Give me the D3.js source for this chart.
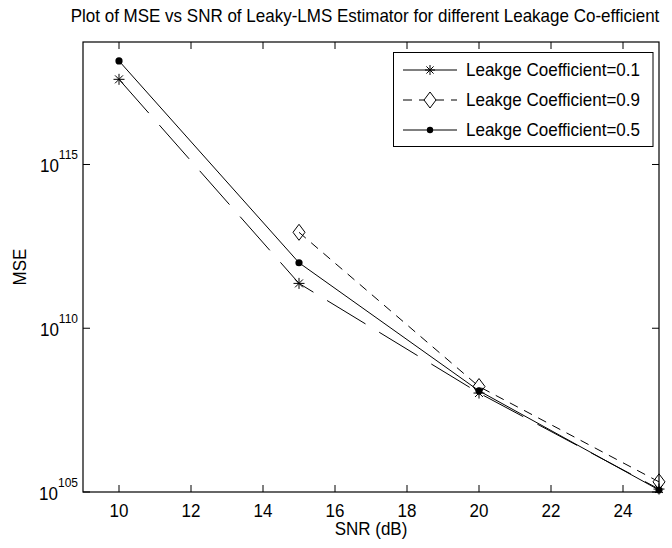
<!DOCTYPE html>
<html><head><meta charset="utf-8">
<script src="https://cdn.jsdelivr.net/npm/d3@7"></script>
<style>
body{margin:0;background:#fff}
text{font-family:"Liberation Sans",Arial,Helvetica,sans-serif;fill:#000}
</style>
</head><body>
<svg id="c" width="672" height="548"></svg>
<script>
// ---- data ----
const snr01 = [10, 15, 20, 25];
const mse01 = [3.98e117, 2.34e111, 1.05e108, 1.23e105];
const snr09 = [15, 20, 25];
const mse09 = [8.5e112, 1.66e108, 2.04e105];
const snr05 = [10, 15, 20, 25];
const mse05 = [1.45e118, 1.0e112, 1.23e108, 1.15e105];
const xTicks = [10, 12, 14, 16, 18, 20, 22, 24];
const yTickExp = [105, 110, 115];
const legendLabels = ["Leakge Coefficient=0.1", "Leakge Coefficient=0.9", "Leakge Coefficient=0.5"];
const titleText = "Plot of MSE vs SNR of Leaky-LMS Estimator for different Leakage Co-efficient";
const xLabel = "SNR (dB)";
const yLabel = "MSE";

// ---- layout ----
const L = 83, R = 659, T = 42, B = 492;
const svg = d3.select("#c");
const x = d3.scaleLinear().domain([9, 25]).range([L, R]);
const y = d3.scaleLog().domain([1e105, Math.pow(10, 118.74)]).range([B, T]);
const FS = 17;
const VS = 1.1; // slight vertical stretch of glyphs as in the reference

function txt(g, px, py, extra) {
  return g.append("text").attr("transform", `translate(${px},${py}) ${extra || ""} scale(1,${VS})`)
    .attr("font-size", FS);
}

svg.append("rect").attr("width", 672).attr("height", 548).attr("fill", "#fff");

// axes box
svg.append("rect").attr("x", L).attr("y", T).attr("width", R - L).attr("height", B - T)
  .attr("fill", "none").attr("stroke", "#000").attr("stroke-width", 1.2);

const tickLen = 7;
const gx = svg.append("g");
xTicks.forEach(t => {
  gx.append("line").attr("x1", x(t)).attr("x2", x(t)).attr("y1", B).attr("y2", B - tickLen).attr("stroke", "#000");
  gx.append("line").attr("x1", x(t)).attr("x2", x(t)).attr("y1", T).attr("y2", T + tickLen).attr("stroke", "#000");
  txt(gx, x(t), 517).attr("text-anchor", "middle").text(t);
});
const gy = svg.append("g");
yTickExp.forEach(e => {
  const yy = y(Math.pow(10, e));
  gy.append("line").attr("x1", L).attr("x2", L + tickLen).attr("y1", yy).attr("y2", yy).attr("stroke", "#000");
  gy.append("line").attr("x1", R).attr("x2", R - tickLen).attr("y1", yy).attr("y2", yy).attr("stroke", "#000");
  const tx = txt(gy, 78, yy + 8).attr("text-anchor", "end");
  tx.append("tspan").text("10");
  tx.append("tspan").attr("dy", -12).attr("font-size", 12).text(e);
});

// title & axis labels
txt(svg, 365, 22).attr("text-anchor", "middle").text(titleText);
txt(svg, (L + R) / 2, 535).attr("text-anchor", "middle").text(xLabel);
txt(svg, 26, (T + B) / 2, "rotate(-90)").attr("text-anchor", "middle").text(yLabel);

// ---- series ----
const line = d3.line().x(d => x(d[0])).y(d => y(d[1]));
const s01 = snr01.map((v, i) => [v, mse01[i]]);
const s09 = snr09.map((v, i) => [v, mse09[i]]);
const s05 = snr05.map((v, i) => [v, mse05[i]]);

function starPath(cx, cy, r) {
  const d = r * 0.72;
  return `M${cx - r},${cy}L${cx + r},${cy}M${cx},${cy - r}L${cx},${cy + r}` +
         `M${cx - d},${cy - d}L${cx + d},${cy + d}M${cx - d},${cy + d}L${cx + d},${cy - d}`;
}
function diamondPath(cx, cy, hw, hh) {
  return `M${cx},${cy - hh}L${cx + hw},${cy}L${cx},${cy + hh}L${cx - hw},${cy}Z`;
}

const plot = svg.append("g");
plot.append("path").datum(s01).attr("d", line).attr("fill", "none").attr("stroke", "#000")
  .attr("stroke-width", 1).attr("stroke-dasharray", "45,16");
plot.append("path").datum(s09).attr("d", line).attr("fill", "none").attr("stroke", "#000")
  .attr("stroke-width", 1).attr("stroke-dasharray", "9,7");
plot.append("path").datum(s05).attr("d", line).attr("fill", "none").attr("stroke", "#000")
  .attr("stroke-width", 1);

plot.selectAll(".st").data(s01).enter().append("path")
  .attr("d", d => starPath(x(d[0]), y(d[1]), 5.5)).attr("stroke", "#000").attr("fill", "none");
plot.selectAll(".dm").data(s09).enter().append("path")
  .attr("d", d => diamondPath(x(d[0]), y(d[1]), 6, 8)).attr("stroke", "#000").attr("fill", "none");
plot.selectAll(".dt").data(s05).enter().append("circle")
  .attr("cx", d => x(d[0])).attr("cy", d => y(d[1])).attr("r", 3.6).attr("fill", "#000");

// ---- legend ----
const lg = svg.append("g");
lg.append("rect").attr("x", 393.5).attr("y", 52.5).attr("width", 259.5).attr("height", 94)
  .attr("fill", "#fff").attr("stroke", "#000").attr("stroke-width", 1);
const rowsY = [70, 100, 130];
const dashes = [null, "9,7", null];
legendLabels.forEach((lab, i) => {
  const ry = rowsY[i];
  const ln = lg.append("line").attr("x1", 403).attr("x2", 457).attr("y1", ry).attr("y2", ry)
    .attr("stroke", "#000").attr("stroke-width", 1);
  if (dashes[i]) ln.attr("stroke-dasharray", dashes[i]);
  if (i === 0) lg.append("path").attr("d", starPath(430, ry, 5)).attr("stroke", "#000").attr("fill", "none");
  if (i === 1) lg.append("path").attr("d", diamondPath(430, ry, 6, 8)).attr("stroke", "#000").attr("fill", "#fff");
  if (i === 2) lg.append("circle").attr("cx", 430).attr("cy", ry).attr("r", 3.2).attr("fill", "#000");
  txt(lg, 466, ry + 6).text(lab);
});
</script>
</body></html>
